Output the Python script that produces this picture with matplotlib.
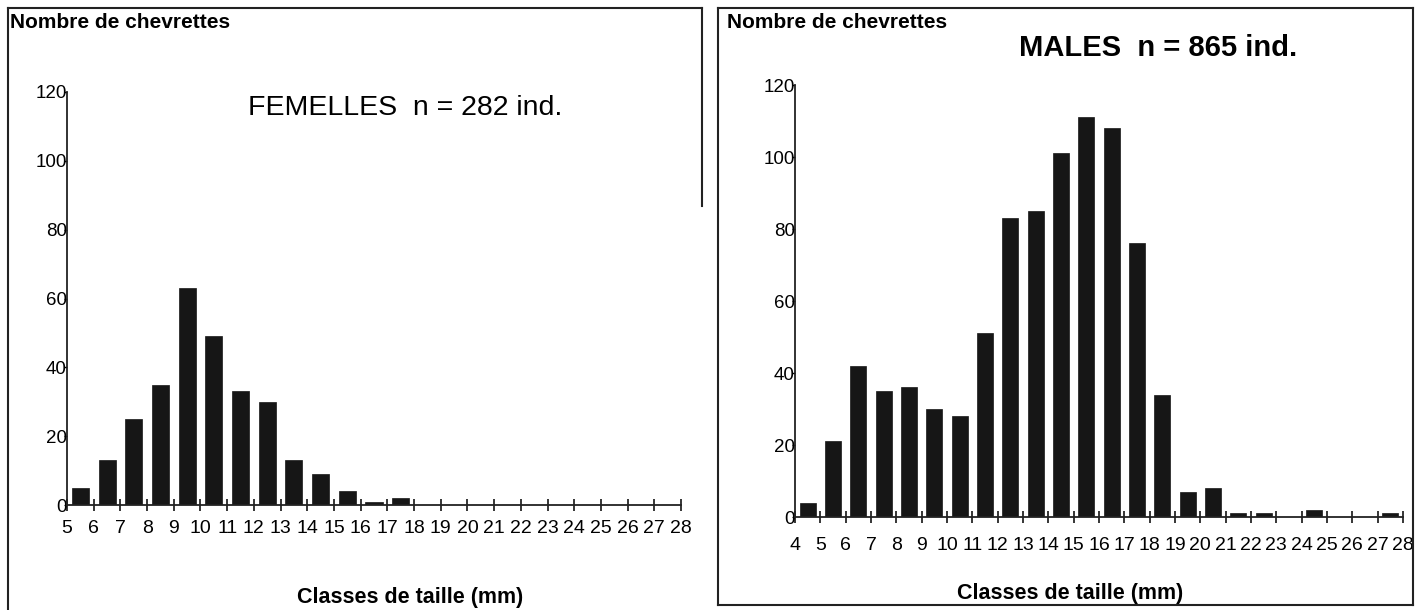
import matplotlib
matplotlib.use("Agg")
import matplotlib.pyplot as plt
from matplotlib.lines import Line2D

plt.rcParams['font.family'] = ['Liberation Sans', 'DejaVu Sans']

# Size classes (mm) and counts per class
fem_classes = list(range(5, 28))
fem_counts = [5, 13, 25, 35, 63, 49, 33, 30, 13, 9, 4, 1, 2,
              0, 0, 0, 0, 0, 0, 0, 0, 0, 0]

male_classes = list(range(4, 28))
male_counts = [4, 21, 42, 35, 36, 30, 28, 51, 83, 85, 101, 111, 108, 76,
               34, 7, 8, 1, 1, 0, 2, 0, 0, 1]

fem_ticks = list(range(5, 29))
male_ticks = list(range(4, 29))
y_ticks = [0, 20, 40, 60, 80, 100, 120]

fem_title = "FEMELLES  n = 282 ind."
male_title = "MALES  n = 865 ind."
ylabel = "Nombre de chevrettes"
xlabel = "Classes de taille (mm)"

W, H = 1421, 610
fig = plt.figure(figsize=(W / 100, H / 100), dpi=100)
BAR = "#161616"


def px(x, y):
    return x / W, 1 - y / H


def style_axes(ax, ticks, xmin, xmax, xpad):
    ax.set_xlim(xmin, xmax)
    ax.set_ylim(0, 120)
    for s in ("top", "right"):
        ax.spines[s].set_visible(False)
    for s in ("left", "bottom"):
        ax.spines[s].set_linewidth(1.3)
        ax.spines[s].set_color("#222222")
    ax.set_xticks(ticks)
    ax.set_xticklabels([str(t) for t in ticks], fontsize=14)
    ax.set_yticks(y_ticks)
    ax.set_yticklabels([str(t) for t in y_ticks], fontsize=13.5)
    ax.tick_params(axis="x", direction="inout", length=9, width=1.1, pad=xpad)
    ax.tick_params(axis="y", direction="out", length=2, width=1.0, pad=-2)
    for lab in ax.get_yticklabels():
        lab.set_verticalalignment("center_baseline")
    ax.set_facecolor("none")


# ---- Females panel ----
ax1 = fig.add_axes([67 / W, 1 - 505 / H, 614 / W, 413 / H])
ax1.bar([c + 0.5 for c in fem_classes], fem_counts, width=0.64,
        color=BAR, edgecolor=BAR, linewidth=0.5)
style_axes(ax1, fem_ticks, 5, 28, 6)

# ---- Males panel ----
ax2 = fig.add_axes([795 / W, 1 - 517 / H, 608 / W, 432 / H])
ax2.bar([c + 0.5 for c in male_classes], male_counts, width=0.64,
        color=BAR, edgecolor=BAR, linewidth=0.5)
style_axes(ax2, male_ticks, 4, 28, 10)

# ---- Panel frames ----
frame_kw = dict(color="#222222", linewidth=1.5, transform=fig.transFigure)
for xs, ys in [
    ((8, 8), (8, 610)), ((8, 702), (8, 8)), ((702, 702), (8, 206)),
    ((718, 718), (8, 605)), ((718, 1413), (8, 8)),
    ((1413, 1413), (8, 605)), ((718, 1413), (605, 605)),
]:
    (x0, y0), (x1, y1) = px(xs[0], ys[0]), px(xs[1], ys[1])
    fig.add_artist(Line2D([x0, x1], [y0, y1], **frame_kw))

# ---- Texts ----
fig.text(*px(10, 22), ylabel, fontsize=15, fontweight="bold",
         ha="left", va="center")
fig.text(*px(727, 22), ylabel, fontsize=15, fontweight="bold",
         ha="left", va="center")
fig.text(*px(405, 108), fem_title, fontsize=20.5, ha="center", va="center")
fig.text(*px(1158, 48), male_title, fontsize=21, fontweight="bold",
         ha="center", va="center")
fig.text(*px(410, 598), xlabel, fontsize=15.5, fontweight="bold",
         ha="center", va="center")
fig.text(*px(1070, 593), xlabel, fontsize=15.5, fontweight="bold",
         ha="center", va="center")

fig.savefig("out.png", dpi=100, facecolor="white")
